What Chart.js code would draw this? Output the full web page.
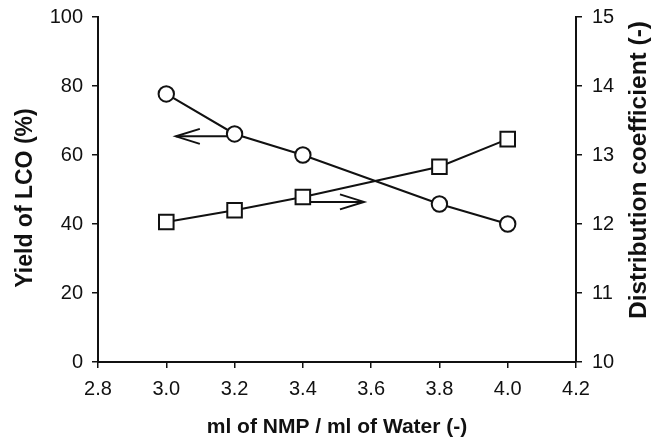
<!DOCTYPE html>
<html>
<head>
<meta charset="utf-8">
<script src="https://cdn.jsdelivr.net/npm/chart.js@4/dist/chart.umd.min.js"></script>
<style>
  html, body { margin: 0; padding: 0; background: #fff; }
  #wrap { width: 671px; height: 442px; }
</style>
</head>
<body>
<div id="wrap"><canvas id="chart"></canvas></div>
<script>
// NMP/water ratio vs LCO yield and distribution coefficient
const ratio = [3.0, 3.2, 3.4, 3.8, 4.0];
const yieldLCO = [77.7, 66.1, 60.0, 45.8, 40.0];      // left axis, %
const distCoef = [12.03, 12.20, 12.39, 12.83, 13.23]; // right axis, (-)

// arrows pointing to the axis each series belongs to
const arrowLeftX = [3.2, 3.028];
const arrowLeftY = [65.4, 65.4];
const arrowRightX = [3.4, 3.579];
const arrowRightY = [12.32, 12.32];

const xTicks = [2.8, 3.0, 3.2, 3.4, 3.6, 3.8, 4.0, 4.2];

const xTitle = 'ml of NMP / ml of Water (-)';
const leftTitle = 'Yield of LCO (%)';
const rightTitle = 'Distribution coefficient (-)';

const toXY = (xs, ys) => xs.map((x, i) => ({ x: x, y: ys[i] }));

const FONT = "'Liberation Sans', Arial, sans-serif";
const INK = '#111';

// draws an open V head at the last point of arrow datasets
const arrowHeads = {
    id: 'arrowHeads',
    afterDatasetsDraw(chart) {
        const ctx = chart.ctx;
        chart.data.datasets.forEach((ds, i) => {
            if (!ds.arrow) return;
            const pts = chart.getDatasetMeta(i).data;
            const a = pts[pts.length - 2], b = pts[pts.length - 1];
            const ang = Math.atan2(b.y - a.y, b.x - a.x);
            const len = 24, half = 7.5;
            ctx.save();
            ctx.strokeStyle = INK;
            ctx.lineWidth = 2;
            ctx.beginPath();
            ctx.moveTo(b.x - len * Math.cos(ang) - half * Math.sin(ang), b.y - len * Math.sin(ang) + half * Math.cos(ang));
            ctx.lineTo(b.x, b.y);
            ctx.lineTo(b.x - len * Math.cos(ang) + half * Math.sin(ang), b.y - len * Math.sin(ang) - half * Math.cos(ang));
            ctx.stroke();
            ctx.restore();
        });
    }
};

// both y titles read bottom-to-top, as in the original figure
const yTitles = {
    id: 'yTitles',
    afterDraw(chart) {
        const ctx = chart.ctx;
        const draw = (text, x, y, size) => {
            ctx.save();
            ctx.translate(x, y);
            ctx.rotate(-Math.PI / 2);
            ctx.font = "bold " + size + "px " + FONT;
            ctx.fillStyle = INK;
            ctx.textAlign = 'center';
            ctx.textBaseline = 'middle';
            ctx.fillText(text, 0, 0);
            ctx.restore();
        };
        draw(leftTitle, 26, 198, 23);
        draw(rightTitle, 639, 170, 24.5);
    }
};

const axisGrid = { display: true, drawOnChartArea: false, drawTicks: true, tickLength: 6, color: INK, lineWidth: 1.5 };
const axisBorder = { display: true, color: INK, width: 2 };
const tickFont = { family: FONT, size: 20 };

// fixed box sizes so the plot area sits where it does in the figure
const fitY = w => s => { s.width = w; s.paddingTop = 0; s.paddingBottom = 0; };

new Chart(document.getElementById('chart'), {
    type: 'scatter',
    data: {
        datasets: [
            {
                label: 'Yield of LCO',
                data: toXY(ratio, yieldLCO),
                yAxisID: 'y',
                showLine: true,
                borderColor: INK,
                borderWidth: 2,
                pointStyle: 'circle',
                pointRadius: 7.7,
                pointBorderWidth: 2,
                pointBackgroundColor: '#fff',
                pointBorderColor: INK,
                order: 1
            },
            {
                label: 'Distribution coefficient',
                data: toXY(ratio, distCoef),
                yAxisID: 'y2',
                showLine: true,
                borderColor: INK,
                borderWidth: 2,
                pointStyle: 'rect',
                pointRadius: 10.3,
                pointBorderWidth: 2,
                pointBackgroundColor: '#fff',
                pointBorderColor: INK,
                order: 1
            },
            {
                label: 'arrow left',
                arrow: true,
                data: toXY(arrowLeftX, arrowLeftY),
                yAxisID: 'y',
                showLine: true,
                borderColor: INK,
                borderWidth: 2,
                pointRadius: 0,
                order: 3
            },
            {
                label: 'arrow right',
                arrow: true,
                data: toXY(arrowRightX, arrowRightY),
                yAxisID: 'y2',
                showLine: true,
                borderColor: INK,
                borderWidth: 2,
                pointRadius: 0,
                order: 3
            }
        ]
    },
    options: {
        responsive: true,
        maintainAspectRatio: false,
        animation: false,
        layout: { padding: { top: 17, left: 0, right: 0, bottom: 0 } },
        plugins: {
            legend: { display: false },
            tooltip: { enabled: false }
        },
        scales: {
            x: {
                type: 'linear',
                min: 2.8,
                max: 4.2,
                afterBuildTicks: s => { s.ticks = xTicks.map(v => ({ value: v })); },
                afterFit: s => { s.height = 80; s.paddingLeft = 0; s.paddingRight = 0; },
                grid: axisGrid,
                border: axisBorder,
                ticks: { color: INK, font: tickFont, padding: 9, maxRotation: 0, callback: v => Number(v).toFixed(1) },
                title: { display: true, text: xTitle, color: INK, font: { family: FONT, size: 21, weight: 'bold' }, padding: { top: 0, bottom: 2 } }
            },
            y: {
                position: 'left',
                min: 0,
                max: 100,
                afterFit: fitY(98),
                grid: axisGrid,
                border: axisBorder,
                ticks: { color: INK, font: tickFont, padding: 9, stepSize: 20 }
            },
            y2: {
                position: 'right',
                min: 10,
                max: 15,
                afterFit: fitY(95),
                grid: axisGrid,
                border: axisBorder,
                ticks: { color: INK, font: tickFont, padding: 10, stepSize: 1 }
            }
        }
    },
    plugins: [arrowHeads, yTitles]
});
</script>
</body>
</html>
